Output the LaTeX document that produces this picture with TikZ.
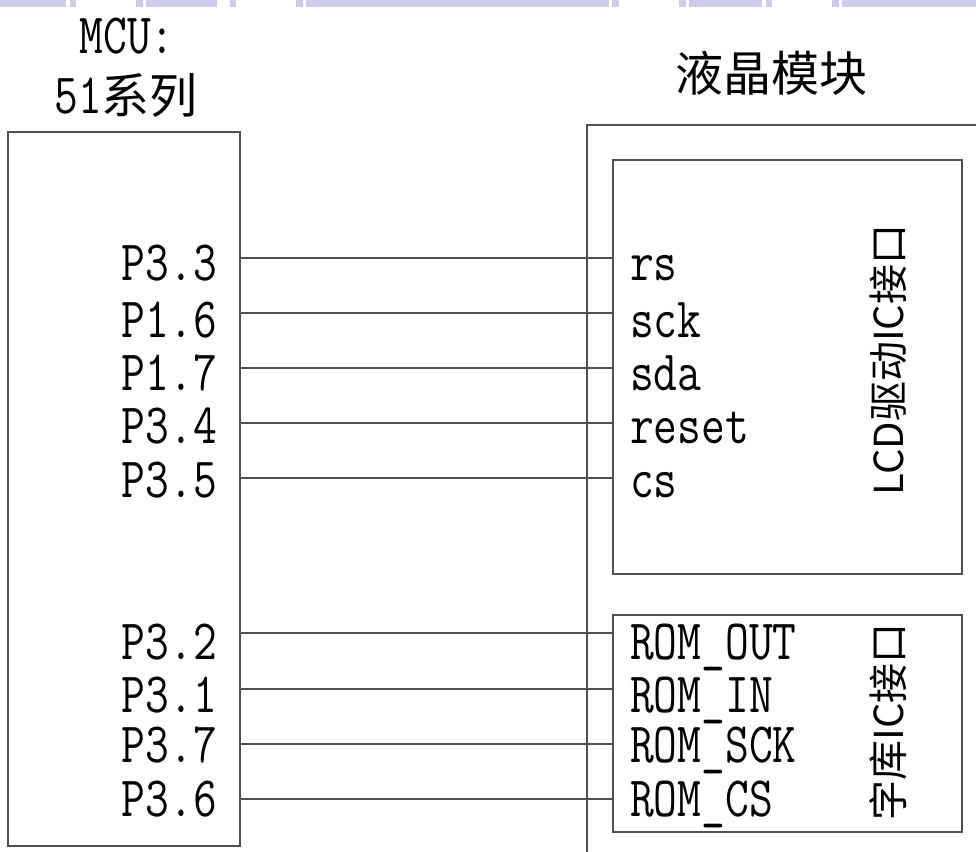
\documentclass[tikz,border=0pt]{standalone}
\usepackage{fontspec}
\newfontfamily\cjk{Noto Sans CJK SC}
\definecolor{bandblue}{RGB}{204,204,240}
\definecolor{wiregray}{RGB}{80,80,80}
\newcommand{\mono}[1]{\scalebox{0.81}[1]{\ttfamily\fontsize{57}{60}\selectfont #1}}

\begin{document}
\begin{tikzpicture}[
			x=1pt, y=-1pt,
			every node/.style={inner sep=0pt},
			box/.style={draw=wiregray, line width=1.2pt},
			conn/.style={draw=wiregray, line width=1.2pt},
			vlabel/.style={rotate=90, font=\cjk\fontsize{40}{42}\selectfont}]

		\useasboundingbox (0,0) rectangle (976,851);
		\foreach \a/\b in {0/66,70/76,136/143,146/217,230/236,296/303,306/609,612/619,679/686,689/762,766/772,832/839,842/976}
			\fill[bandblue] (\a,0) rectangle (\b,7);

		\node(mcutitle) at (127,36) {\mono{MCU:}};
		\node(mcuseries) at (126,95) {\mono{51}{\cjk\fontsize{48}{50}\selectfont 系列}};
		\node(lcdtitle) at (771,73) {\cjk\fontsize{48}{50}\selectfont 液晶模块};

		\node[box, minimum width=232, minimum height=714](mcu) at (124,489) {};
		\draw[conn] (587,870) |- (1000,125);
		\node[box, minimum width=349, minimum height=414](lcd) at (787.5,367) {};
		\node[box, minimum width=349, minimum height=217](rom) at (787.5,723.5) {};

		\node[vlabel](lcdif) at (888,360) {LCD驱动IC接口};
		\node[vlabel](romif) at (888,722) {字库IC接口};

		\foreach \pin/\sig/\y/\b [count=\i] in {P3.3/rs/258/280, P1.6/sck/313/337, P1.7/sda/368/390, P3.4/reset/423/443, P3.5/cs/478/497}{
			\node[anchor=base east](pa\i) at (217,\b) {\mono{\pin}};
			\node[anchor=base west](sa\i) at (630,\b) {\mono{\sig}};
			\draw[conn] (mcu.east |- 0,\y) -- (lcd.west |- 0,\y);
		}
		\foreach \pin/\sig/\y/\b [count=\i] in {P3.2/ROM\_OUT/633/659, P3.1/ROM\_IN/689/712, P3.7/ROM\_SCK/744/762, P3.6/ROM\_CS/799/816}{
			\node[anchor=base east](pb\i) at (217,\b) {\mono{\pin}};
			\node[anchor=base west](sb\i) at (630,\b) {\mono{\sig}};
			\draw[conn] (mcu.east |- 0,\y) -- (rom.west |- 0,\y);
		}
	\end{tikzpicture}
\end{document}
